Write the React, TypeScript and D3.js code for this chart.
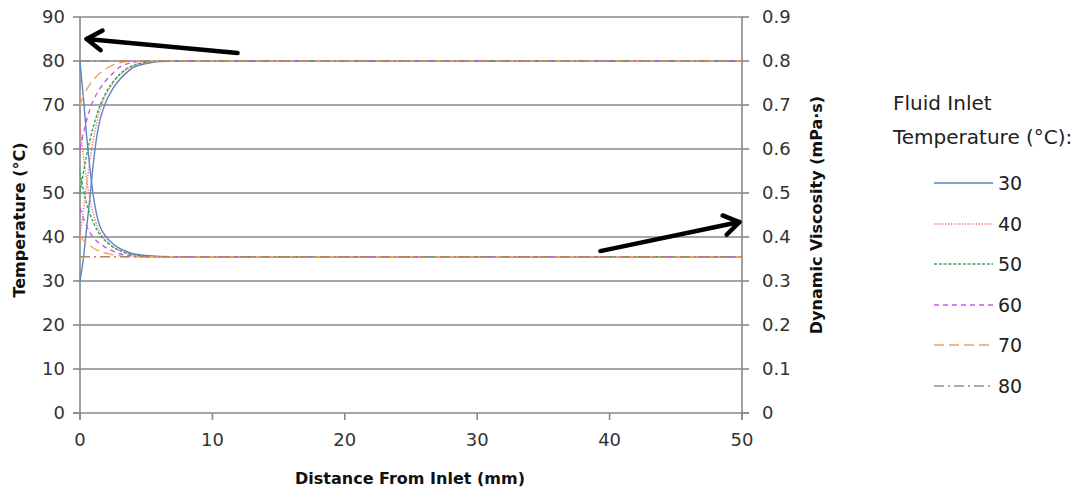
import React from "react";
import * as d3 from "d3";

// ---- data ----
const inletTemps = ["30", "40", "50", "60", "70", "80"];
const distance = [0, 0.25, 0.5, 0.75, 1, 1.25, 1.5, 1.75, 2, 2.5, 3, 3.5, 4, 5, 6, 8, 50];

const temp30 = [30, 35, 42, 49, 56.5, 62.5, 66.5, 69, 71, 73.8, 75.8, 77.3, 78.5, 79.4, 79.9, 80, 80];
const temp40 = [40, 46, 52, 57.5, 62, 65.8, 68.8, 71, 72.6, 75, 76.8, 78, 78.9, 79.7, 80, 80, 80];
const temp50 = [50, 54.5, 58.5, 62, 65, 67.5, 69.8, 71.5, 73, 75.3, 77, 78.2, 79, 79.7, 80, 80, 80];
const temp60 = [60, 63.5, 66.5, 69, 71, 72.5, 73.7, 74.8, 75.7, 77.3, 78.6, 79.3, 79.7, 80, 80, 80, 80];
const temp70 = [70, 72, 73.5, 74.7, 75.7, 76.5, 77.2, 77.8, 78.3, 79.1, 79.6, 79.9, 80, 80, 80, 80, 80];
const temp80 = [80, 80, 80, 80, 80, 80, 80, 80, 80, 80, 80, 80, 80, 80, 80, 80, 80];

const visc30 = [0.797, 0.719, 0.63, 0.556, 0.495, 0.452, 0.425, 0.41, 0.399, 0.384, 0.374, 0.367, 0.362, 0.358, 0.356, 0.355, 0.355];
const visc40 = [0.653, 0.585, 0.53, 0.485, 0.454, 0.429, 0.411, 0.399, 0.391, 0.378, 0.37, 0.364, 0.36, 0.356, 0.355, 0.355, 0.355];
const visc50 = [0.547, 0.508, 0.476, 0.452, 0.434, 0.418, 0.405, 0.396, 0.389, 0.377, 0.369, 0.363, 0.36, 0.356, 0.355, 0.355, 0.355];
const visc60 = [0.467, 0.443, 0.425, 0.41, 0.399, 0.391, 0.385, 0.38, 0.375, 0.368, 0.362, 0.359, 0.357, 0.355, 0.355, 0.355, 0.355];
const visc70 = [0.404, 0.393, 0.386, 0.38, 0.375, 0.371, 0.368, 0.365, 0.363, 0.359, 0.357, 0.355, 0.355, 0.355, 0.355, 0.355, 0.355];
const visc80 = [0.355, 0.355, 0.355, 0.355, 0.355, 0.355, 0.355, 0.355, 0.355, 0.355, 0.355, 0.355, 0.355, 0.355, 0.355, 0.355, 0.355];

const tempSeries = [temp30, temp40, temp50, temp60, temp70, temp80];
const viscSeries = [visc30, visc40, visc50, visc60, visc70, visc80];

const xTicks = [0, 10, 20, 30, 40, 50];
const yTicks = [0, 10, 20, 30, 40, 50, 60, 70, 80, 90];
const y2Ticks = [0, 0.1, 0.2, 0.3, 0.4, 0.5, 0.6, 0.7, 0.8, 0.9];

// annotation arrows in data coords [distance, temperature]
const arrow1 = { from: [11.9, 81.8], to: [0.5, 85] };
const arrow2 = { from: [39.3, 36.8], to: [49.8, 43.4] };

// ---- styles ----
const colors = ["#5B84C4", "#F26B6B", "#2EAA55", "#C05AE8", "#F5A05E", "#A8876C"];
const dashes = ["", "1.2,1.6", "3,1.8", "5,4", "10,5", "10,4,2,4"];

const W = 1091;
const H = 491;
const L = 80, R = 742, T = 17, B = 413;
const font = "'DejaVu Sans', sans-serif";
const gridCol = "#888888";

export default function App() {
  const x = d3.scaleLinear().domain([0, 50]).range([L, R]);
  const y = d3.scaleLinear().domain([0, 90]).range([B, T]);
  const y2 = d3.scaleLinear().domain([0, 0.9]).range([B, T]);

  const lineT = d3
    .line<number>()
    .x((_, i) => x(distance[i]))
    .y((d) => y(d))
    .curve(d3.curveMonotoneX);
  const lineV = d3
    .line<number>()
    .x((_, i) => x(distance[i]))
    .y((d) => y2(d))
    .curve(d3.curveMonotoneX);

  const arrow = (a: { from: number[]; to: number[] }, key: string) => {
    const x1 = x(a.from[0]), y1 = y(a.from[1]);
    const x2 = x(a.to[0]), y2p = y(a.to[1]);
    const ang = Math.atan2(y2p - y1, x2 - x1);
    const hl = 18, spread = 0.58;
    const p1 = [x2 - hl * Math.cos(ang - spread), y2p - hl * Math.sin(ang - spread)];
    const p2 = [x2 - hl * Math.cos(ang + spread), y2p - hl * Math.sin(ang + spread)];
    return (
      <g key={key} stroke="#000" strokeWidth={4.5} fill="none" strokeLinecap="round" strokeLinejoin="round">
        <line x1={x1} y1={y1} x2={x2} y2={y2p} />
        <polyline points={`${p1[0]},${p1[1]} ${x2},${y2p} ${p2[0]},${p2[1]}`} />
      </g>
    );
  };

  const legendY = [183, 224, 264, 305, 345, 386];

  return (
    <svg width={W} height={H} style={{ position: "absolute", left: 0, top: 0, background: "#fff" }} fontFamily={font}>
      {/* gridlines */}
      {yTicks.slice(1).map((t) => (
        <line key={"g" + t} x1={L} x2={R} y1={y(t)} y2={y(t)} stroke={gridCol} strokeWidth={1.6} />
      ))}
      {/* axes */}
      <line x1={L} x2={L} y1={T} y2={B + 6} stroke={gridCol} strokeWidth={1.6} />
      <line x1={R} x2={R} y1={T} y2={B + 6} stroke={gridCol} strokeWidth={1.6} />
      <line x1={L - 7} x2={R + 7} y1={B} y2={B} stroke={gridCol} strokeWidth={1.6} />
      {yTicks.map((t) => (
        <line key={"lt" + t} x1={L - 7} x2={L} y1={y(t)} y2={y(t)} stroke={gridCol} strokeWidth={1.6} />
      ))}
      {y2Ticks.map((t) => (
        <line key={"rt" + t} x1={R} x2={R + 7} y1={y2(t)} y2={y2(t)} stroke={gridCol} strokeWidth={1.6} />
      ))}
      {xTicks.map((t) => (
        <line key={"xt" + t} x1={x(t)} x2={x(t)} y1={B} y2={B + 7} stroke={gridCol} strokeWidth={1.6} />
      ))}

      {/* tick labels */}
      {yTicks.map((t) => (
        <text key={"yl" + t} x={L - 15} y={y(t)} dy="0.36em" textAnchor="end" fontSize={18} fill="#333">
          {t}
        </text>
      ))}
      {y2Ticks.map((t) => (
        <text key={"y2l" + t} x={R + 20} y={y2(t)} dy="0.36em" textAnchor="start" fontSize={18} fill="#333">
          {d3.format("")(+t.toFixed(1))}
        </text>
      ))}
      {xTicks.map((t) => (
        <text key={"xl" + t} x={x(t)} y={B + 27} dy="0.36em" textAnchor="middle" fontSize={18} fill="#333">
          {t}
        </text>
      ))}

      {/* axis titles */}
      <text x={410} y={478} dy="0.36em" textAnchor="middle" fontSize={16} fontWeight="bold" fill="#111">
        Distance From Inlet (mm)
      </text>
      <text transform={`translate(19,220) rotate(-90)`} dy="0.36em" textAnchor="middle" fontSize={16} fontWeight="bold" fill="#111">
        Temperature (°C)
      </text>
      <text transform={`translate(816,215) rotate(-90)`} dy="0.36em" textAnchor="middle" fontSize={16} fontWeight="bold" fill="#111">
        Dynamic Viscosity (mPa·s)
      </text>

      {/* series */}
      {inletTemps.map((name, i) => (
        <g key={"s" + name} fill="none" stroke={colors[i]} strokeWidth={1.4} strokeDasharray={dashes[i]}>
          <path d={lineT(tempSeries[i]) || ""} />
          <path d={lineV(viscSeries[i]) || ""} />
        </g>
      ))}

      {/* arrows */}
      {arrow(arrow1, "a1")}
      {arrow(arrow2, "a2")}

      {/* legend */}
      <text x={893} y={103} dy="0.36em" fontSize={20} fill="#222">Fluid Inlet</text>
      <text x={893} y={137} dy="0.36em" fontSize={20} fill="#222">Temperature (°C):</text>
      {inletTemps.map((name, i) => (
        <g key={"l" + name}>
          <line x1={934} x2={993} y1={legendY[i]} y2={legendY[i]} stroke={colors[i]} strokeWidth={1.6} strokeDasharray={dashes[i]} />
          <text x={998} y={legendY[i]} dy="0.36em" fontSize={19} fill="#222">{name}</text>
        </g>
      ))}
    </svg>
  );
}
